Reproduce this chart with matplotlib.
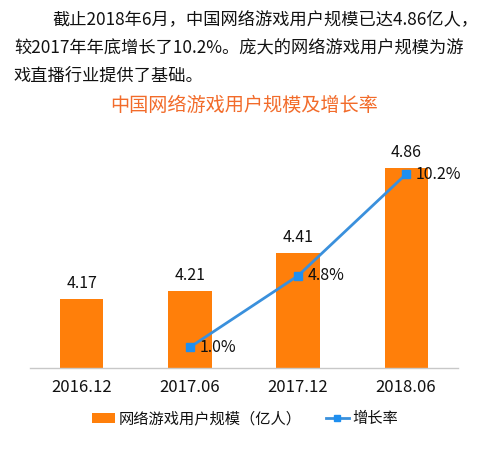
import matplotlib
matplotlib.use("Agg")
import matplotlib.pyplot as plt
from matplotlib.patches import Patch
from matplotlib.lines import Line2D

plt.rcParams['font.family'] = ['Noto Sans CJK SC', 'DejaVu Sans']

categories = ["2016.12", "2017.06", "2017.12", "2018.06"]
users = [4.17, 4.21, 4.41, 4.86]
growth_idx = [1, 2, 3]
growth = [1.0, 4.8, 10.2]

bar_color = "#FF7F0A"
line_color = "#3A90DC"
marker_color = "#1E8FF0"
text_color = "#111111"

fig = plt.figure(figsize=(4.85, 4.57), dpi=100)
W, H = 485, 457

def fx(px):
    return px / W

def fy(py):
    return 1 - py / H

# Intro text
fig.text(fx(52), fy(20), "截止2018年6月，中国网络游戏用户规模已达4.86亿人，",
         fontsize=12.4, color=text_color, va="center", ha="left")
fig.text(fx(14), fy(48), "较2017年年底增长了10.2%。庞大的网络游戏用户规模为游",
         fontsize=12.4, color=text_color, va="center", ha="left")
fig.text(fx(14), fy(76), "戏直播行业提供了基础。",
         fontsize=12.4, color=text_color, va="center", ha="left")

# Title
fig.text(fx(244), fy(105), "中国网络游戏用户规模及增长率",
         fontsize=13.8, color="#F26B2A", va="center", ha="center")

ax = fig.add_axes([fx(30), fy(368), fx(458) - fx(30), fy(160) - fy(368)])
x = list(range(len(categories)))
bars = ax.bar(x, users, width=0.40, color=bar_color, zorder=2)
ax.set_xlim(-0.48, 3.48)
ax.set_ylim(3.805, 4.90)
ax.set_yticks([])
for s in ["top", "right", "left"]:
    ax.spines[s].set_visible(False)
ax.spines["bottom"].set_color("#c8c8c8")
ax.spines["bottom"].set_linewidth(1.0)
ax.set_xticks(x)
ax.set_xticklabels(categories, fontsize=12, color=text_color)
ax.tick_params(axis="x", length=0, pad=8)

for xi, v in zip(x, users):
    ax.annotate(f"{v:.2f}", (xi, v), xytext=(0, 5), textcoords="offset points",
                ha="center", va="bottom", fontsize=11.5, color=text_color)

ax2 = ax.twinx()
ax2.set_ylim(-0.105, 10.95)
ax2.set_yticks([])
for s in ax2.spines.values():
    s.set_visible(False)
ax2.plot(growth_idx, growth, color=line_color, linewidth=2, marker="s",
         markersize=6, markerfacecolor=marker_color, markeredgecolor=marker_color, zorder=3)
for xi, v in zip(growth_idx, growth):
    ax2.annotate(f"{v:.1f}%", (xi, v), xytext=(7, 0), textcoords="offset points",
                 ha="left", va="center", fontsize=11.5, color=text_color)

handles = [Patch(facecolor=bar_color, edgecolor="none"),
           Line2D([0], [0], color=line_color, linewidth=2, marker="s", markersize=5,
                  markerfacecolor=marker_color, markeredgecolor=marker_color)]
labels = ["网络游戏用户规模（亿人）", "增长率"]
fig.legend(handles, labels, loc="center", bbox_to_anchor=(fx(245), fy(419)), ncol=2,
           frameon=False, fontsize=11, handlelength=1.5, handleheight=0.6,
           columnspacing=1.6, handletextpad=0.2, labelcolor=text_color)

fig.savefig("out.png", dpi=100)
